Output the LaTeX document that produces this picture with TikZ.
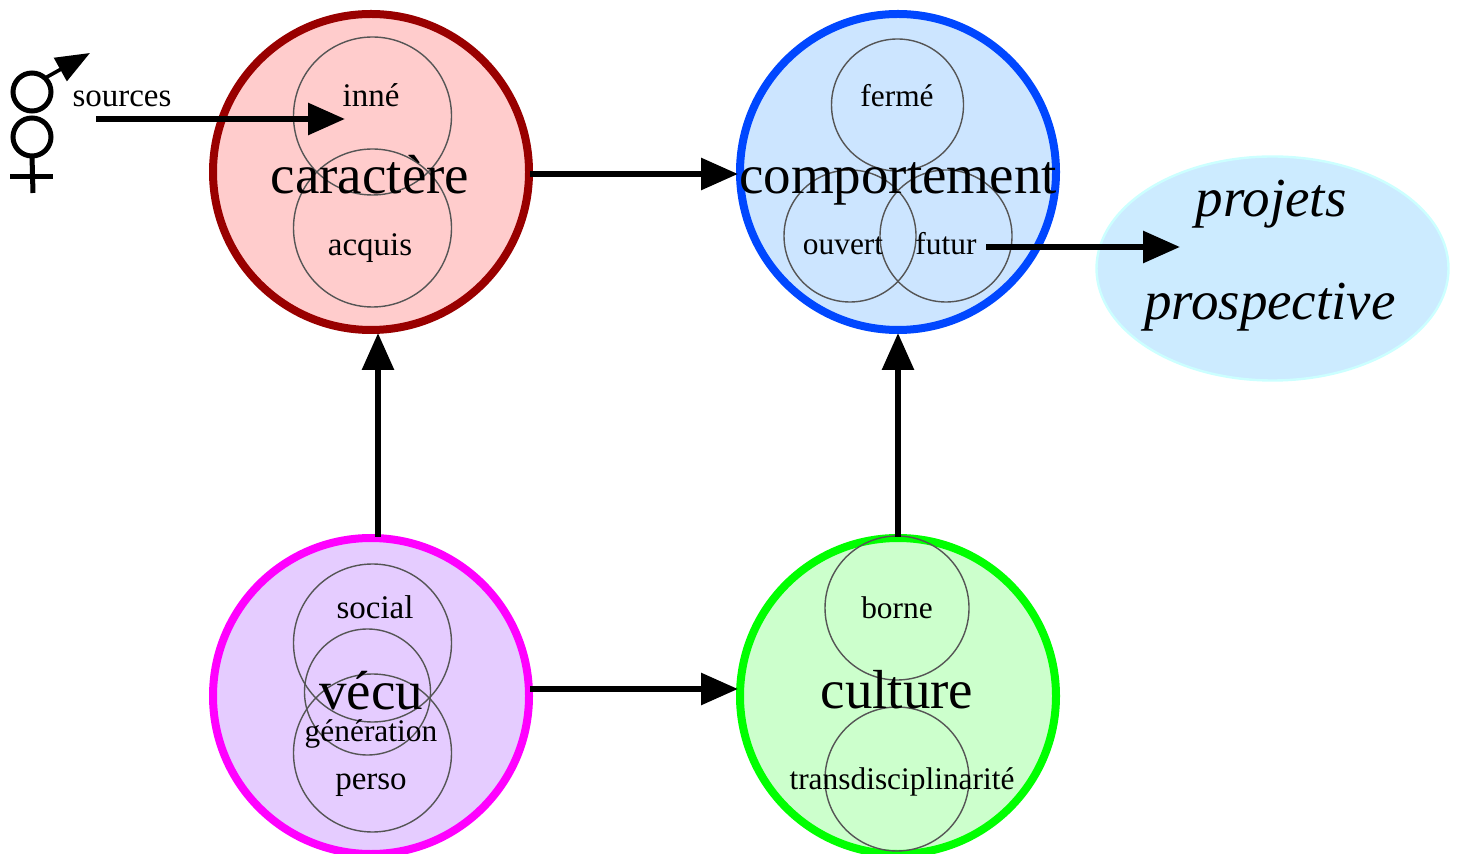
\documentclass[tikz,border=0pt]{standalone}
\usepackage{fontspec}
\setmainfont{Liberation Serif}
\usetikzlibrary{arrows.meta,shapes.geometric}

\definecolor{redfill}{HTML}{FFCCCC}
\definecolor{redring}{HTML}{990000}
\definecolor{bluefill}{HTML}{CCE5FF}
\definecolor{bluering}{HTML}{0047FF}
\definecolor{purplefill}{HTML}{E5CCFF}
\definecolor{purplering}{HTML}{FF00FF}
\definecolor{greenfill}{HTML}{CCFFCC}
\definecolor{greenring}{HTML}{00FF00}
\definecolor{skyfill}{HTML}{CCEBFF}
\definecolor{skyring}{HTML}{CCFFFF}
\definecolor{thingray}{HTML}{555555}

\tikzset{
  bigring/.style={circle,draw=#1,line width=4pt,minimum size=158pt,inner sep=0pt,outer sep=0pt},
  smallring/.style={circle,draw=thingray,line width=0.7pt,minimum size=#1,inner sep=0pt,outer sep=0pt},
  symbolring/.style={circle,draw=black,line width=2.5pt,minimum size=19pt,inner sep=0pt,outer sep=0pt},
  bigtext/.style={font=\fontsize{27.5}{30}\selectfont,inner sep=0pt,anchor=base},
  smalltext/.style={font=\fontsize{16.5}{18}\selectfont,inner sep=0pt,anchor=base},
  tighttext/.style={font=\fontsize{15.7}{18}\selectfont,inner sep=0pt,anchor=base},
  flow/.style={line width=3pt,-{Triangle[length=18.5pt,width=15.5pt]}},
}

\begin{document}
\begin{tikzpicture}[x=0.5pt,y=-0.5pt]
\useasboundingbox (0,0) rectangle (1460,854);

% Main circles
\node[bigring=redring,fill=redfill] (caractere) at (371,172) {};
\node[bigring=bluering,fill=bluefill] (comportement) at (898,172) {};
\node[bigring=purplering,fill=purplefill] (vecu) at (371,696) {};
\node[bigring=greenring,fill=greenfill] (culture) at (898,696) {};
\node[ellipse,draw=skyring,line width=1.2pt,fill=skyfill,minimum width=176pt,minimum height=112pt,inner sep=0pt] (prospect) at (1272.5,268.5) {};

% Inner circles
\node[smallring=79pt] (inneC) at (372.5,116) {};
\node[smallring=79pt] (acquisC) at (372.5,228) {};
\node[smallring=66pt] (fermeC) at (897.5,105) {};
\node[smallring=66pt] (ouvertC) at (850,236) {};
\node[smallring=66pt] (futurC) at (946,236) {};
\node[smallring=79pt] (socialC) at (372.5,643) {};
\node[smallring=63pt] (generationC) at (367.5,692) {};
\node[smallring=79pt] (persoC) at (372.5,753) {};
\node[smallring=72pt] (borneC) at (897,608) {};
\node[smallring=72pt] (transC) at (897,779) {};

% Labels
\node[bigtext] (caractereL) at (370,194) {caractère};
\node[bigtext] (comportementL) at (898,194) {comportement};
\node[bigtext] (vecuL) at (371,709) {vécu};
\node[bigtext] (cultureL) at (897,708) {culture};
\node[bigtext] (projetsL) at (1271,216.5) {\itshape projets};
\node[bigtext] (prospectiveL) at (1270,320) {\itshape prospective};
\node[smalltext] (sourcesL) at (122,106.5) {sources};
\node[smalltext] (inneL) at (371,107) {inné};
\node[smalltext] (acquisL) at (370,256) {acquis};
\node[tighttext] (fermeL) at (897,107) {fermé};
\node[tighttext] (ouvertL) at (843,255) {ouvert};
\node[tighttext] (futurL) at (946,255) {futur};
\node[smalltext] (socialL) at (375,618) {social};
\node[tighttext] (generationL) at (371,741) {génération};
\node[smalltext] (persoL) at (371,789) {perso};
\node[tighttext] (borneL) at (897,618) {borne};
\node[tighttext] (transL) at (902,789) {transdisciplinarité};

% Sex symbols
\node[symbolring] (male) at (32,92) {};
\node[symbolring] (female) at (32,137) {};
\coordinate (maletip) at (90,53);
\coordinate (femalefoot) at (33,193);
\coordinate (crossleft) at (10,177);
\coordinate (crossright) at (53,177);
\draw[line width=1.8pt,-{Triangle[length=17pt,width=13pt]}] (male.47) -- (maletip);
\draw[line width=2.5pt] (female.south) -- (femalefoot);
\draw[line width=2.5pt] (crossleft) -- (crossright);

% Arrows
\coordinate (sourcesstart) at (96,119);
\coordinate (sourcesend) at (345,119);
\coordinate (futurstart) at (986,247);
\coordinate (futurend) at (1180,247);
\draw[flow] (sourcesstart) -- (sourcesend);
\draw[flow] ([shift={(1,2)}]caractere.east) -- ([shift={(-2,2)}]comportement.west);
\draw[flow] ([shift={(7,-1)}]vecu.north) -- ([shift={(7,3)}]caractere.south);
\draw[flow] ([shift={(0,-1)}]culture.north) -- ([shift={(0,3)}]comportement.south);
\draw[flow] ([shift={(1,-7)}]vecu.east) -- ([shift={(-2,-7)}]culture.west);
\draw[flow] (futurstart) -- (futurend);

\end{tikzpicture}
\end{document}
